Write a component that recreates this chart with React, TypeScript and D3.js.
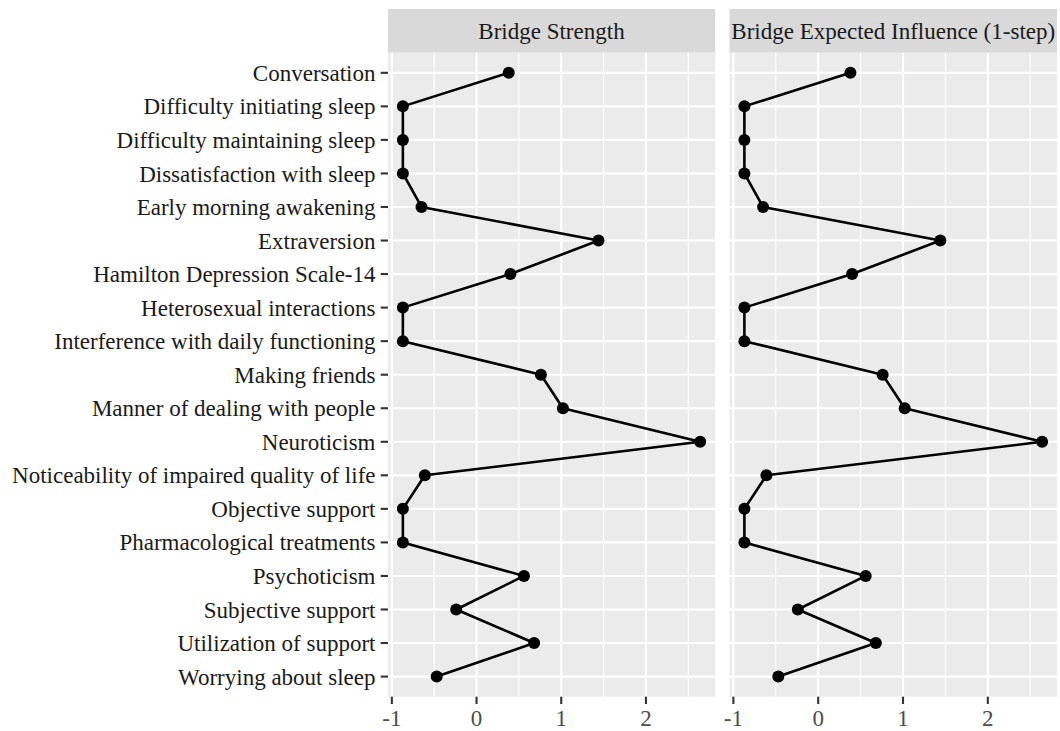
import React from "react";
import * as d3 from "d3";

// nodes in the order they appear on the y axis (top to bottom)
const nodes = [
  "Conversation",
  "Difficulty initiating sleep",
  "Difficulty maintaining sleep",
  "Dissatisfaction with sleep",
  "Early morning awakening",
  "Extraversion",
  "Hamilton Depression Scale-14",
  "Heterosexual interactions",
  "Interference with daily functioning",
  "Making friends",
  "Manner of dealing with people",
  "Neuroticism",
  "Noticeability of impaired quality of life",
  "Objective support",
  "Pharmacological treatments",
  "Psychoticism",
  "Subjective support",
  "Utilization of support",
  "Worrying about sleep",
];

// z-scores
const bridgeStrength = [
  0.38, -0.87, -0.87, -0.87, -0.65, 1.44, 0.4, -0.87, -0.87, 0.76,
  1.02, 2.64, -0.61, -0.87, -0.87, 0.56, -0.24, 0.68, -0.47,
];
const bridgeEI = [
  0.38, -0.87, -0.87, -0.87, -0.65, 1.44, 0.4, -0.87, -0.87, 0.76,
  1.02, 2.64, -0.61, -0.87, -0.87, 0.56, -0.24, 0.68, -0.47,
];

const facetTitles = ["Bridge Strength", "Bridge Expected Influence (1-step)"];
const xTicks = [-1, 0, 1, 2];
const xMinor = [-0.5, 0.5, 1.5, 2.5];

const W = 1060;
const H = 731;
const stripTop = 9;
const panelTop = 52.7;
const panelBottom = 696.7;
const panels = [
  { x0: 388, x1: 715 },
  { x0: 729.5, x1: 1057 },
];
const FONT = "'Liberation Serif', 'Times New Roman', serif";

export default function App() {
  const series = [bridgeStrength, bridgeEI];

  // ggplot style: 5% expansion on the continuous axis
  const all = bridgeStrength.concat(bridgeEI);
  const [lo, hi] = d3.extent(all) as [number, number];
  const pad = (hi - lo) * 0.05;

  const y = d3
    .scalePoint<string>()
    .domain(nodes)
    .range([panelTop, panelBottom])
    .padding(0.6);

  return (
    <svg
      width={W}
      height={H}
      style={{ position: "absolute", left: 0, top: 0, background: "#fff" }}
      fontFamily={FONT}
    >
      {panels.map((p, i) => {
        const x = d3.scaleLinear().domain([lo - pad, hi + pad]).range([p.x0, p.x1]);
        const line = d3
          .line<number>()
          .x((d) => x(d))
          .y((_, j) => y(nodes[j]) as number);
        const vals = series[i];
        return (
          <g key={i}>
            {/* strip */}
            <rect x={p.x0} y={stripTop} width={p.x1 - p.x0} height={panelTop - stripTop} fill="#d9d9d9" />
            <text
              x={(p.x0 + p.x1) / 2}
              y={(stripTop + panelTop) / 2}
              dy="0.35em"
              textAnchor="middle"
              fontSize={23}
              fill="#1a1a1a"
            >
              {facetTitles[i]}
            </text>

            {/* panel */}
            <rect x={p.x0} y={panelTop} width={p.x1 - p.x0} height={panelBottom - panelTop} fill="#ebebeb" />
            {xMinor.map((t) => (
              <line key={"m" + t} x1={x(t)} x2={x(t)} y1={panelTop} y2={panelBottom} stroke="#fff" strokeWidth={1.05} />
            ))}
            {xTicks.map((t) => (
              <line key={"M" + t} x1={x(t)} x2={x(t)} y1={panelTop} y2={panelBottom} stroke="#fff" strokeWidth={2.1} />
            ))}
            {nodes.map((n) => (
              <line key={n} x1={p.x0} x2={p.x1} y1={y(n)} y2={y(n)} stroke="#fff" strokeWidth={2.1} />
            ))}

            {/* data */}
            <path d={line(vals) || ""} fill="none" stroke="#000" strokeWidth={2.6} strokeLinejoin="round" />
            {vals.map((v, j) => (
              <circle key={j} cx={x(v)} cy={y(nodes[j])} r={6} fill="#000" />
            ))}

            {/* x axis */}
            {xTicks.map((t) => (
              <g key={"t" + t}>
                <line x1={x(t)} x2={x(t)} y1={panelBottom} y2={panelBottom + 7.3} stroke="#333" strokeWidth={2.1} />
                <text x={x(t)} y={panelBottom + 29} textAnchor="middle" fontSize={23} fill="#4d4d4d">
                  {t < 0 ? "-" + Math.abs(t) : String(t)}
                </text>
              </g>
            ))}
          </g>
        );
      })}

      {/* y axis on the left panel */}
      {nodes.map((n) => (
        <g key={"y" + n}>
          <line
            x1={panels[0].x0 - 7.3}
            x2={panels[0].x0}
            y1={y(n)}
            y2={y(n)}
            stroke="#333"
            strokeWidth={2.1}
          />
          <text x={panels[0].x0 - 12.5} y={y(n)} dy="0.35em" textAnchor="end" fontSize={23} fill="#1a1a1a">
            {n}
          </text>
        </g>
      ))}
    </svg>
  );
}
